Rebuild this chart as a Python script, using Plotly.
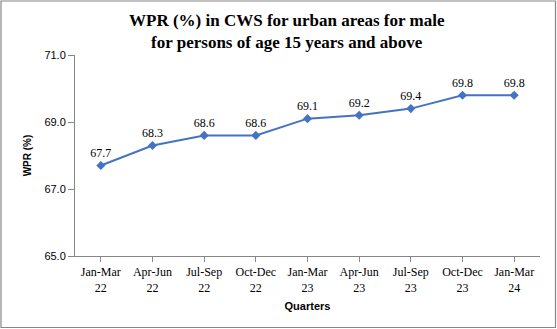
import plotly.graph_objects as go

quarters = ["Jan-Mar<br>22", "Apr-Jun<br>22", "Jul-Sep<br>22", "Oct-Dec<br>22",
            "Jan-Mar<br>23", "Apr-Jun<br>23", "Jul-Sep<br>23", "Oct-Dec<br>23",
            "Jan-Mar<br>24"]
wpr = [67.7, 68.3, 68.6, 68.6, 69.1, 69.2, 69.4, 69.8, 69.8]
y_ticks = [65.0, 67.0, 69.0, 71.0]

W, H = 557, 329
L, R, T, B = 75, 17, 55, 73
pw, ph = W - L - R, H - T - B

SERIF = "Liberation Serif"
SANS = "Liberation Sans"

fig = go.Figure()
fig.add_trace(go.Scatter(
    x=list(range(len(quarters))), y=wpr,
    mode="lines+markers+text",
    line=dict(color="#4472C4", width=2),
    marker=dict(symbol="diamond", size=7, color="#4472C4"),
    text=[f"{v:.1f}" for v in wpr],
    textposition="top center",
    textfont=dict(family=SERIF, size=12, color="#000000"),
    cliponaxis=False,
    hoverinfo="skip",
))

fig.update_layout(
    width=W, height=H,
    margin=dict(l=L, r=R, t=T, b=B),
    paper_bgcolor="white", plot_bgcolor="white",
    showlegend=False,
    xaxis=dict(
        range=[-0.5, len(quarters) - 0.5],
        tickmode="array", tickvals=list(range(len(quarters))), ticktext=quarters,
        tickson="boundaries", ticks="outside", ticklen=5, tickcolor="#868686",
        showline=True, linecolor="#868686", linewidth=1,
        showgrid=False, zeroline=False,
        tickfont=dict(family=SERIF, size=12, color="#000000"),
        title=dict(text="<b>Quarters</b>", standoff=8,
                   font=dict(family=SANS, size=11, color="#000000")),
    ),
    yaxis=dict(
        range=[65, 71],
        tickmode="array", tickvals=y_ticks, ticktext=[f"{v:.1f}" for v in y_ticks],
        ticks="outside", ticklen=6, tickcolor="#868686",
        showline=True, linecolor="#868686", linewidth=1,
        showgrid=False, zeroline=False,
        tickfont=dict(family=SANS, size=11, color="#000000"),
        title=dict(text="<b>WPR (%)</b>", standoff=10,
                   font=dict(family=SANS, size=10, color="#000000")),
    ),
)

# chart title, two centred lines
fig.add_annotation(
    text="<b>WPR (%) in CWS for urban areas for male<br>for persons of age 15 years and above</b>",
    xref="paper", yref="paper",
    x=(287 - L) / pw, y=(T + ph - 31) / ph,
    xanchor="center", yanchor="middle", showarrow=False,
    font=dict(family=SERIF, size=17, color="#000000"),
)

# outer frame around the whole chart
fig.add_shape(
    type="rect", xref="paper", yref="paper",
    x0=(1 - L) / pw, x1=(W - 1.5 - L) / pw,
    y0=-(H - 1.5 - (T + ph)) / ph, y1=(T + ph - 1) / ph,
    line=dict(color="#868686", width=1.2), fillcolor="rgba(0,0,0,0)",
    layer="below",
)

fig.write_html("out.html")
